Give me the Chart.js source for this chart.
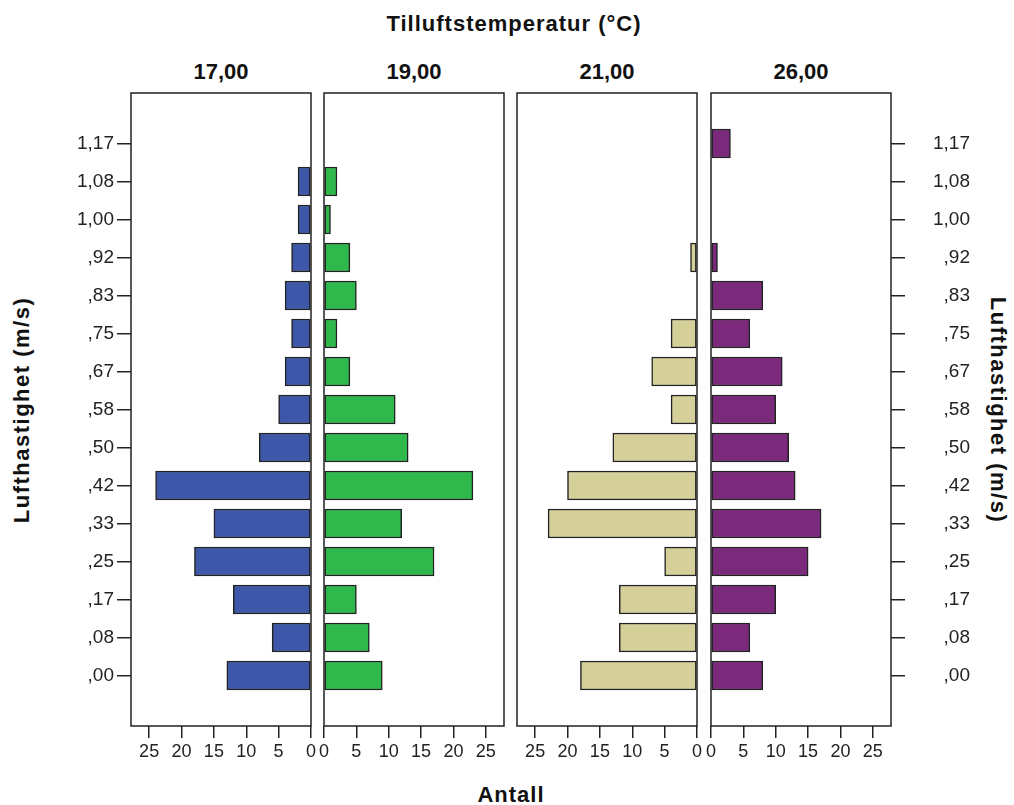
<!DOCTYPE html>
<html>
<head>
<meta charset="utf-8">
<script src="https://cdn.jsdelivr.net/npm/chart.js@4/dist/chart.umd.min.js"></script>
<style>
  body { margin: 0; background: #fff; }
  #wrap { position: relative; width: 1014px; height: 805px; font-family: "Liberation Sans", Arial, sans-serif; color: #111; }
  #wrap canvas { position: absolute; top: 0; }
  .lbl { position: absolute; font-weight: bold; white-space: nowrap; transform: translate(-50%, -50%); }
</style>
</head>
<body>
<div id="wrap">
  <div class="lbl" style="left:514px; top:24px; font-size:22px; letter-spacing:1px;">Tilluftstemperatur (°C)</div>
  <div class="lbl" id="t0" style="left:221px; top:72px; font-size:22px;"></div>
  <div class="lbl" id="t1" style="left:414px; top:72px; font-size:22px;"></div>
  <div class="lbl" id="t2" style="left:607px; top:72px; font-size:22px;"></div>
  <div class="lbl" id="t3" style="left:801px; top:72px; font-size:22px;"></div>
  <div class="lbl" style="left:22px; top:410px; font-size:22px; letter-spacing:1.5px; transform: translate(-50%, -50%) rotate(-90deg);">Lufthastighet (m/s)</div>
  <div class="lbl" style="left:998px; top:410px; font-size:22px; letter-spacing:1.5px; transform: translate(-50%, -50%) rotate(90deg);">Lufthastighet (m/s)</div>
  <div class="lbl" style="left:511px; top:795px; font-size:22px; letter-spacing:1px;">Antall</div>
  <canvas id="c0" width="320" height="805" style="left:0px"></canvas>
  <canvas id="c1" width="200" height="805" style="left:315px"></canvas>
  <canvas id="c2" width="200" height="805" style="left:508px"></canvas>
  <canvas id="c3" width="312" height="805" style="left:702px"></canvas>
</div>
<script>
// Lufthastighet (m/s) categories, bottom to top
const speedLabels = [",00", ",08", ",17", ",25", ",33", ",42", ",50", ",58", ",67", ",75", ",83", ",92", "1,00", "1,08", "1,17"];
const panelTemps = ["17,00", "19,00", "21,00", "26,00"];
const counts17 = [13, 6, 12, 18, 15, 24, 8, 5, 4, 3, 4, 3, 2, 2, 0];
const counts19 = [9, 7, 5, 17, 12, 23, 13, 11, 4, 2, 5, 4, 1, 2, 0];
const counts21 = [18, 12, 12, 5, 23, 20, 13, 4, 7, 4, 0, 1, 0, 0, 0];
const counts26 = [8, 6, 10, 15, 17, 13, 12, 10, 11, 6, 8, 1, 0, 0, 3];
const countTicks = [0, 5, 10, 15, 20, 25];

const ink = "#222";
const tickFont = { family: "'Liberation Sans', Arial, sans-serif", size: 19 };
const countFont = { family: "'Liberation Sans Narrow', 'Arial Narrow', 'Liberation Sans', sans-serif", size: 18 };

// box around each panel
const frame = {
  id: "frame",
  afterDraw: chart => {
    const { ctx, chartArea: a } = chart;
    ctx.save();
    ctx.strokeStyle = ink;
    ctx.lineWidth = 1.5;
    ctx.strokeRect(a.left, a.top, a.right - a.left, a.bottom - a.top);
    ctx.restore();
  },
};

const makePanel = (id, counts, color, { reverse, yPos, padding, yWidth }) => {
  const points = counts
    .map((v, i) => ({ x: v, y: i }))
    .filter(p => p.x > 0);

  return new Chart(document.getElementById(id), {
    type: "bar",
    data: {
      datasets: [
        {
          data: points,
          backgroundColor: color,
          borderColor: ink,
          borderWidth: 1.5,
          borderSkipped: false,
          barThickness: 29,
        },
      ],
    },
    plugins: [frame],
    options: {
      indexAxis: "y",
      responsive: false,
      animation: false,
      devicePixelRatio: 1,
      layout: { padding },
      plugins: { legend: { display: false }, tooltip: { enabled: false } },
      scales: {
        x: {
          type: "linear",
          min: 0,
          max: 27.8,
          reverse,
          afterBuildTicks: s => { s.ticks = countTicks.map(v => ({ value: v })); },
          afterFit: s => { s.height = 79; },
          border: { display: false },
          grid: { drawOnChartArea: false, tickLength: 12, color: ink, lineWidth: 1.5 },
          ticks: { color: "#222", font: countFont, padding: 3, maxRotation: 0 },
        },
        y: {
          type: "linear",
          display: !!yPos,
          position: yPos || "left",
          offset: false,
          min: -1.33,
          max: 15.33,
          afterBuildTicks: s => { s.ticks = speedLabels.map((_, i) => ({ value: i })); },
          afterFit: s => { if (yWidth) s.width = yWidth; },
          border: { display: false },
          grid: { offset: false, drawOnChartArea: false, tickLength: 14, color: ink, lineWidth: 1.5 },
          ticks: {
            color: "#222",
            font: tickFont,
            padding: 3,
            crossAlign: yPos === "right" ? "far" : "near",
            callback: v => speedLabels[v],
          },
        },
      },
    },
  });
};

panelTemps.forEach((t, i) => { document.getElementById("t" + i).textContent = t; });

makePanel("c0", counts17, "#3e58a9", { reverse: true, yPos: "left", yWidth: 131, padding: { top: 93, right: 9, left: 0, bottom: 0 } });
makePanel("c1", counts19, "#2fb84b", { reverse: false, padding: { top: 93, left: 9, right: 11, bottom: 0 } });
makePanel("c2", counts21, "#d5d09a", { reverse: true, padding: { top: 93, left: 9, right: 11, bottom: 0 } });
makePanel("c3", counts26, "#7b2a7b", { reverse: false, yPos: "right", yWidth: 79, padding: { top: 93, left: 9, right: 44, bottom: 0 } });
</script>
</body>
</html>
